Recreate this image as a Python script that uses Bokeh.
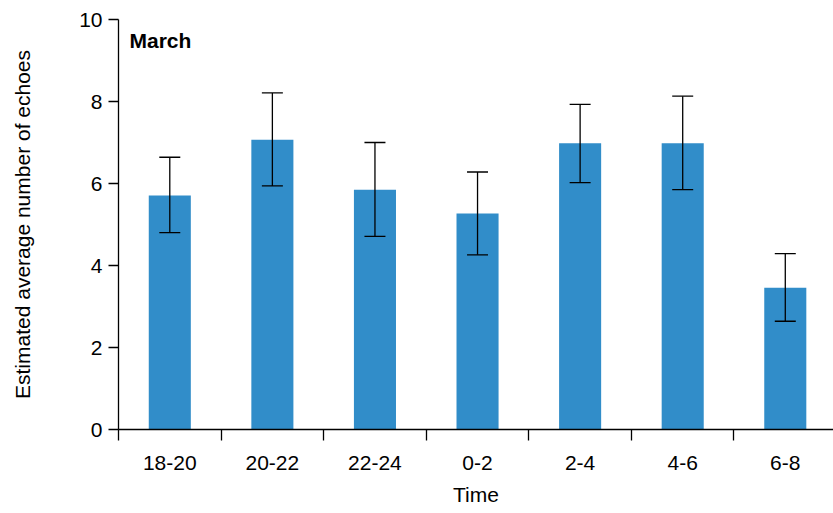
from bokeh.plotting import figure
from bokeh.models import Range1d, FixedTicker, ColumnDataSource, Whisker, TeeHead, Label
from bokeh.embed import file_html
from bokeh.resources import INLINE

categories = ["18-20", "20-22", "22-24", "0-2", "2-4", "4-6", "6-8"]
means = [5.71, 7.07, 5.85, 5.27, 6.98, 6.98, 3.46]
upper = [6.64, 8.21, 7.00, 6.28, 7.93, 8.13, 4.29]
lower = [4.80, 5.94, 4.71, 4.26, 6.02, 5.85, 2.64]
y_ticks = [0, 2, 4, 6, 8, 10]
panel_title = "March"

FONT = "Liberation Sans"
FS = "21px"

xs = list(range(len(categories)))
src = ColumnDataSource(dict(x=xs, top=means, upper=upper, lower=lower))

p = figure(width=833, height=513, output_backend="svg", toolbar_location=None,
           x_range=Range1d(-0.5, 6.47), y_range=Range1d(0, 10),
           min_border_left=118, min_border_right=0, min_border_top=19, min_border_bottom=84)
p.outline_line_color = None
p.xgrid.visible = False
p.ygrid.visible = False

p.vbar(x="x", top="top", bottom=0, width=0.41, source=src,
       fill_color="#318dc9", line_color=None)

w = Whisker(base="x", upper="upper", lower="lower", source=src, level="overlay",
            line_color="black", line_width=1.3,
            upper_head=TeeHead(size=21, line_color="black", line_width=1.3),
            lower_head=TeeHead(size=21, line_color="black", line_width=1.3))
p.add_layout(w)

# x axis: labels at centres, ticks at boundaries
p.xaxis.ticker = FixedTicker(ticks=xs, minor_ticks=[i - 0.5 for i in range(len(categories) + 1)])
p.xaxis.major_label_overrides = {i: c for i, c in zip(xs, categories)}
p.xaxis.major_tick_line_color = None
p.xaxis.major_tick_out = 11
p.xaxis.major_tick_in = 0
p.xaxis.minor_tick_out = 11
p.xaxis.minor_tick_in = 0
p.xaxis.minor_tick_line_color = "black"
p.xaxis.major_label_standoff = 15
p.xaxis.axis_label = "Time"
p.xaxis.axis_label_standoff = 10

p.yaxis.ticker = FixedTicker(ticks=y_ticks)
p.yaxis.minor_tick_line_color = None
p.yaxis.major_tick_out = 10
p.yaxis.major_tick_in = 0
p.yaxis.major_label_standoff = 6
p.yaxis.axis_label = "Estimated average number of echoes"
p.yaxis.axis_label_standoff = 42

for ax in (p.xaxis[0], p.yaxis[0]):
    ax.axis_line_color = "black"
    ax.axis_line_width = 1.3
    ax.major_tick_line_width = 1.3
    ax.minor_tick_line_width = 1.3
    ax.major_label_text_font = FONT
    ax.major_label_text_font_size = FS
    ax.major_label_text_color = "black"
    ax.axis_label_text_font = FONT
    ax.axis_label_text_font_size = FS
    ax.axis_label_text_font_style = "normal"
    ax.axis_label_text_color = "black"
p.yaxis.major_tick_line_color = "black"

p.add_layout(Label(x=11, y=401, x_units="screen", y_units="screen", text=panel_title,
                   text_font=FONT, text_font_size=FS, text_font_style="bold",
                   text_baseline="top", text_color="black"))

open("out.html", "w").write(file_html(p, INLINE))
